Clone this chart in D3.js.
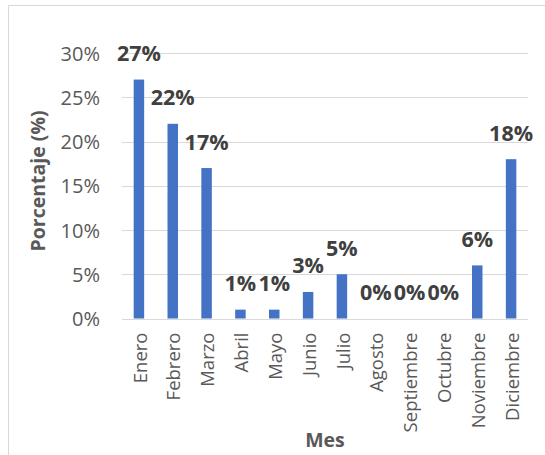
<!DOCTYPE html>
<html><head><meta charset="utf-8">
<script src="https://cdn.jsdelivr.net/npm/d3@7"></script>
<style>body{margin:0;background:#fff}svg{display:block}</style>
</head><body>
<svg id="c" width="545" height="455"></svg>
<script>
const months = ["Enero","Febrero","Marzo","Abril","Mayo","Junio","Julio","Agosto","Septiembre","Octubre","Noviembre","Diciembre"];
const values = [27,22,17,1,1,3,5,0,0,0,6,18];
const yTicks = [0,5,10,15,20,25,30];
const yTitle = "Porcentaje (%)";
const xTitle = "Mes";

(function(){
const svg = d3.select("#c");
const font = "'Open Sans', sans-serif";
const mL = 122, mR = 528, mT = 53, mB = 318.5;

svg.append("rect").attr("x",8.5).attr("y",5.5).attr("width",600).attr("height",600)
  .attr("fill","none").attr("stroke","#d9d9d9");

const x = d3.scaleBand().domain(months).range([mL,mR]).paddingInner(0.69).paddingOuter(0.345);
const y = d3.scaleLinear().domain([0,30]).range([mB,mT]);

// gridlines
svg.append("g").selectAll("line").data(yTicks).join("line")
  .attr("x1",mL).attr("x2",mR)
  .attr("y1",d=>Math.round(y(d))+0.5).attr("y2",d=>Math.round(y(d))+0.5)
  .attr("stroke","#d9d9d9").attr("stroke-width",1);

// y axis labels
const yAxis = d3.axisLeft(y).tickValues(yTicks).tickFormat(d=>d+"%").tickSize(0).tickPadding(0);
const ya = svg.append("g").attr("transform",`translate(${mL-22},0)`).call(yAxis);
ya.select(".domain").remove();
ya.selectAll("text").attr("font-family",font).attr("font-size",20).attr("fill","#595959").attr("dy","0.36em");

// bars
svg.append("g").selectAll("rect").data(values).join("rect")
  .attr("x",(d,i)=>x(months[i])).attr("width",x.bandwidth())
  .attr("y",d=>y(d)).attr("height",d=>y(0)-y(d))
  .attr("fill","#4472c4");

// data labels
svg.append("g").selectAll("text").data(values).join("text")
  .attr("x",(d,i)=>x(months[i])+x.bandwidth()/2)
  .attr("y",d=>y(d)-18.5)
  .attr("text-anchor","middle")
  .attr("font-family",font).attr("font-weight","bold").attr("font-size",21.5)
  .attr("fill","#404040").text(d=>d+"%");

// x axis labels
const xAxis = d3.axisBottom(x).tickSize(0).tickPadding(0);
const xa = svg.append("g").attr("transform",`translate(0,${mB})`).call(xAxis);
xa.select(".domain").remove();
xa.selectAll("text")
  .attr("font-family",font).attr("font-size",18.5).attr("fill","#595959")
  .attr("text-anchor","end").attr("dy","0.36em")
  .attr("transform","translate(1,14) rotate(-90)").attr("x",0).attr("y",0);

// axis titles
svg.append("text").attr("x",(mL+mR)/2).attr("y",447).attr("text-anchor","middle")
  .attr("font-family",font).attr("font-weight","bold").attr("font-size",19.5).attr("fill","#595959").text(xTitle);
svg.append("text").attr("transform",`translate(45,181) rotate(-90)`).attr("text-anchor","middle")
  .attr("font-family",font).attr("font-weight","bold").attr("font-size",19.5).attr("fill","#595959").text(yTitle);
})();
</script>
</body></html>
